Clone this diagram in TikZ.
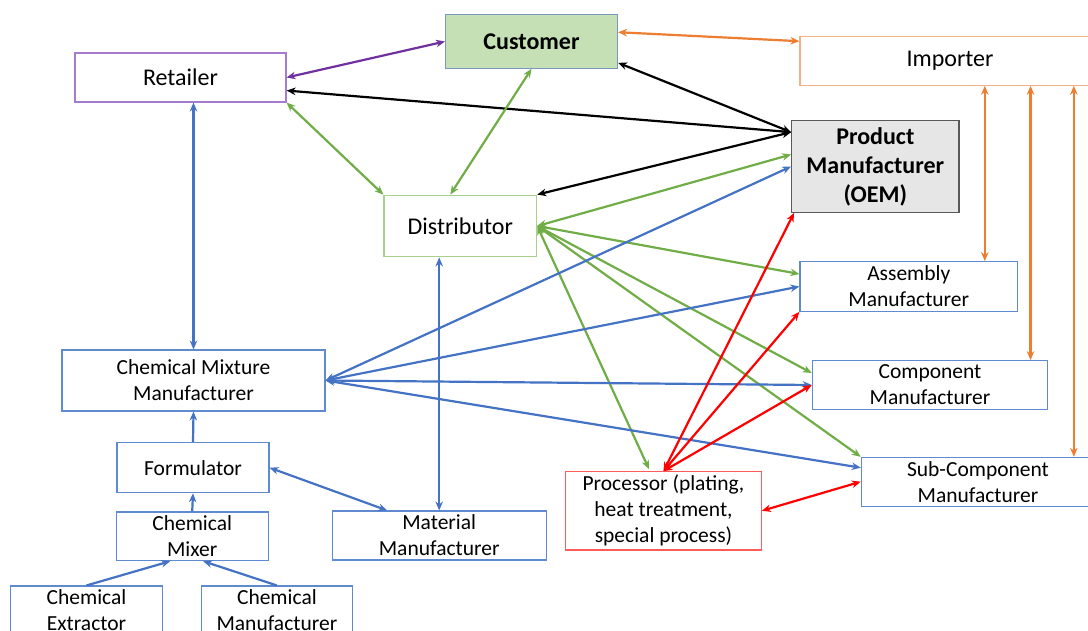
\documentclass[tikz,border=0pt]{standalone}
\usepackage{fontspec}
\setmainfont{Carlito}
\usetikzlibrary{arrows.meta,calc}

\definecolor{arrowblue}{HTML}{4472C4}
\definecolor{arrowgreen}{HTML}{70AD47}
\definecolor{arroworange}{HTML}{ED7D31}
\definecolor{arrowpurple}{HTML}{7030A0}
\definecolor{arrowred}{HTML}{FF0000}
\definecolor{boxblue}{HTML}{5F8AD0}
\definecolor{boxgreen}{HTML}{A9D18E}
\definecolor{boxorange}{HTML}{F4B183}
\definecolor{boxpurple}{HTML}{A57BD0}
\definecolor{boxred}{HTML}{FF5B5B}
\definecolor{custfill}{HTML}{C5E0B4}
\definecolor{custline}{HTML}{7A98BE}
\definecolor{oemfill}{HTML}{E7E6E6}
\definecolor{oemline}{HTML}{595959}

\begin{document}
\begin{tikzpicture}[x=1pt, y=-1pt,
    box/.style={draw, line width=1.1pt, inner sep=0pt, align=center,
        font=\fontsize{21.5}{26}\selectfont},
    bigbox/.style={box, font=\fontsize{24}{29}\selectfont},
    link/.style={{Stealth[length=9pt, width=7.5pt]}-{Stealth[length=9pt, width=7.5pt]}, line width=2.2pt},
    feed/.style={-{Stealth[length=9pt, width=7.5pt]}, line width=2.2pt}]
    \useasboundingbox (0,0) rectangle (1088,630);
    \clip (0,0) rectangle (1088,630);

    % Upper boxes
    \node[bigbox, draw=boxpurple, minimum width=211, minimum height=49] (ret) at (180.5,77.5) {Retailer};
    \node[bigbox, draw=custline, fill=custfill, minimum width=172, minimum height=53.5,
        font=\fontsize{24}{29}\selectfont\bfseries] (cust) at (531.5,41.5) {Customer};
    \node[bigbox, draw=boxorange, minimum width=300, minimum height=48.5] (imp) at (950,61) {Importer};
    \node[bigbox, draw=oemline, fill=oemfill, minimum width=167.3, minimum height=91.6,
        font=\fontsize{24}{29}\selectfont\bfseries] (oem) at (875.3,166.5) {Product\\Manufacturer\\(OEM)};
    \node[bigbox, draw=boxgreen, minimum width=152.7, minimum height=61.7] (dist) at (460.3,226) {Distributor};

    % Manufacturers on the right
    \node[box, draw=boxblue, minimum width=217.7, minimum height=49.7] (asm) at (908.8,286.5) {Assembly\\Manufacturer};
    \node[box, draw=boxblue, minimum width=235.4, minimum height=48.6] (comp) at (930,385) {Component\\Manufacturer};
    \node[box, draw=boxblue, minimum width=233.4, minimum height=48.7] (sub) at (978,481.7) {Sub-Component\\Manufacturer};
    \node[box, draw=boxred, minimum width=195.6, minimum height=78.3] (proc) at (663.5,510.8) {Processor (plating,\\heat treatment,\\special process)};

    % Chemical chain on the left
    \node[box, draw=boxblue, minimum width=263, minimum height=61] (cm) at (193.5,380.5) {Chemical Mixture\\Manufacturer};
    \node[box, draw=boxblue, minimum width=152, minimum height=50] (form) at (193,467.7) {Formulator};
    \node[box, draw=boxblue, minimum width=152.3, minimum height=48.7] (mix) at (192.2,536.3) {Chemical\\Mixer};
    \node[box, draw=boxblue, minimum width=214.3, minimum height=49] (mat) at (439.2,535.5) {Material\\Manufacturer};
    \node[box, draw=boxblue, minimum width=151.6, minimum height=49] (ext) at (86.5,610.5) {Chemical\\Extractor};
    \node[box, draw=boxblue, minimum width=151.7, minimum height=49] (chm) at (276.9,610.5) {Chemical\\Manufacturer};

    % Customer links
    \draw[link, arrowpurple] (ret.east) -- (cust.west);
    \draw[link, arroworange] ($(cust.north east)+(0,18)$) -- ($(imp.north west)+(0,5)$);

    % Black links to the OEM
    \coordinate (oemhub) at ($(oem.north west)+(0,12)$);
    \draw[link, black] ($(cust.south east)+(0,-6)$) -- (oemhub);
    \draw[link, black] ($(ret.south east)+(0,-12)$) -- (oemhub);
    \draw[link, black] (dist.north east) -- (oemhub);

    % Distributor (green)
    \draw[link, arrowgreen] (ret.south east) -- (dist.north west);
    \draw[link, arrowgreen] ($(dist.north)+(-10,0)$) -- (cust.south);
    \draw[link, arrowgreen] (dist.east) -- ($(oem.west)+(0,-12)$);
    \draw[link, arrowgreen] (dist.east) -- ($(asm.west)+(0,-12.5)$);
    \draw[link, arrowgreen] (dist.east) -- ($(comp.west)+(0,-12)$);
    \draw[link, arrowgreen] (dist.east) -- (sub.north west);
    \draw[link, arrowgreen] (dist.east) -- ($(proc.north)+(-14.5,-2)$);

    % Chemical mixture and material (blue)
    \draw[link, arrowblue] (ret.south -| cm.north) -- (cm.north);
    \draw[link, arrowblue] (dist.south -| mat.north) -- (mat.north);
    \foreach \t in {oem.west, asm.west, comp.west}
        \draw[link, arrowblue] (cm.east) -- (\t);
    \draw[link, arrowblue] (cm.east) -- ($(sub.west)+(0,-14)$);
    \draw[feed, arrowblue] (form.north) -- (cm.south);
    \draw[feed, arrowblue] (mix.north) -- (form.south);
    \draw[feed, arrowblue] (ext.north) -- ($(mix.south)+(-22,0)$);
    \draw[feed, arrowblue] (chm.north) -- ($(mix.south)+(11,0)$);
    \draw[link, arrowblue] (form.east) -- ($(mat.north)+(-52,0)$);

    % Processor (red)
    \draw[link, arrowred] (proc.north) -- ($(oem.south west)+(3,0)$);
    \draw[link, arrowred] (proc.north) -- (asm.south west);
    \draw[link, arrowred] (proc.north) -- (comp.west);
    \draw[link, arrowred] (proc.east) -- (sub.west);

    % Importer (orange)
    \coordinate (o1) at ($(asm.north east)+(-33.4,0)$);
    \coordinate (o2) at ($(comp.north east)+(-17.7,0)$);
    \coordinate (o3) at ($(sub.north east)+(-21.4,0)$);
    \foreach \p in {o1,o2,o3}
        \draw[link, arroworange] (imp.south -| \p) -- (\p);
\end{tikzpicture}
\end{document}
